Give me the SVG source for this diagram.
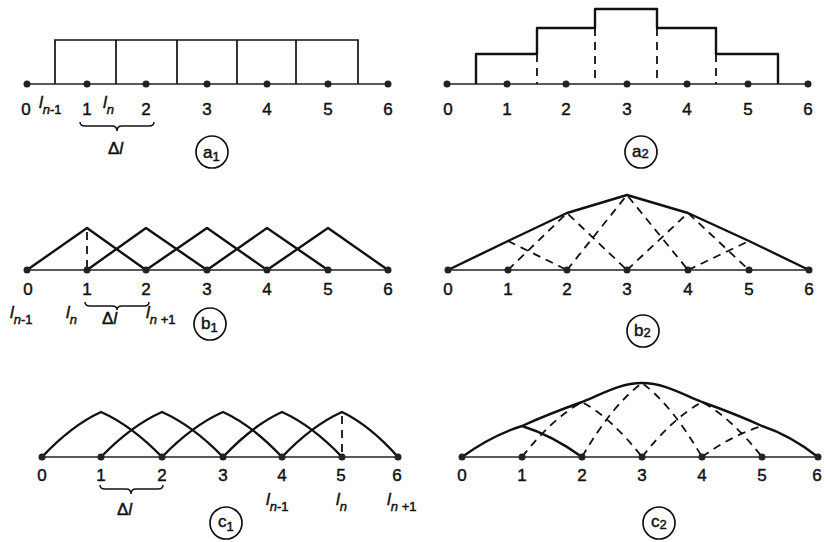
<svg xmlns="http://www.w3.org/2000/svg" width="826" height="542" viewBox="0 0 826 542">
<style>
  text { font-family: "Liberation Sans", Arial, sans-serif; fill: #111; stroke: #111; stroke-width: 0.45; }
  .num { font-size: 17px; text-anchor: middle; }
  .lbl { font-size: 17px; }
  .it { font-style: italic; }
  .sub { font-size: 13px; }
  .axis { stroke: #222; stroke-width: 1.6; fill: none; }
  .thin { stroke: #111; stroke-width: 1.7; fill: none; }
  .bold { stroke: #111; stroke-width: 2.4; fill: none; stroke-linejoin: round; }
  .dash { stroke: #111; stroke-width: 1.8; fill: none; stroke-dasharray: 8 6; }
  .brace { stroke: #111; stroke-width: 1.5; fill: none; }
  .ring { stroke: #111; stroke-width: 1.7; fill: none; }
  .dot { fill: #222; }
</style>
<rect width="826" height="542" fill="#fff"/>

<!-- a1 -->
<g id="panel-a1">
  <line class="axis" x1="27" y1="84" x2="388" y2="84"/>
  <path class="thin" d="M55,84 V40 H358 V84 M116,40 V84 M177,40 V84 M237,40 V84 M296,40 V84"/>
  <g class="dot">
    <circle cx="27" cy="84" r="3.5"/><circle cx="87" cy="84" r="3.5"/><circle cx="146" cy="84" r="3.5"/>
    <circle cx="207" cy="84" r="3.5"/><circle cx="267" cy="84" r="3.5"/><circle cx="328" cy="84" r="3.5"/>
    <circle cx="388" cy="84" r="3.5"/>
  </g>
  <text class="num" x="26" y="115">0</text>
  <text class="num" x="87" y="115">1</text>
  <text class="num" x="146" y="115">2</text>
  <text class="num" x="207" y="115">3</text>
  <text class="num" x="267" y="115">4</text>
  <text class="num" x="328" y="115">5</text>
  <text class="num" x="388" y="115">6</text>
  <text class="lbl" x="39" y="108"><tspan class="it">l</tspan><tspan class="sub" dy="6"><tspan class="it">n</tspan>-1</tspan></text>
  <text class="lbl" x="103" y="108"><tspan class="it">l</tspan><tspan class="sub" dy="6"><tspan class="it">n</tspan></tspan></text>
  <path class="brace" d="M80,122 Q80,126 85,126 L112,126 Q117,126 117,131 Q117,126 122,126 L149,126 Q154,126 154,122"/>
  <text class="lbl" x="108" y="154">Δ<tspan class="it">l</tspan></text>
  <circle class="ring" cx="212" cy="152" r="16"/>
  <text class="lbl" x="203" y="158">a<tspan class="sub" dy="3">1</tspan></text>
</g>

<!-- a2 -->
<g id="panel-a2">
  <line class="axis" x1="447" y1="84" x2="808" y2="84"/>
  <path class="bold" stroke-width="2.2" d="M476,84 V54 H537 V28 H595 V9 H657 V28 H716 V54 H778 V84"/>
  <path class="dash" stroke-width="1.5" d="M537,54 V84 M595,28 V84 M657,28 V84 M716,54 V84"/>
  <g class="dot">
    <circle cx="447" cy="84" r="3.5"/><circle cx="507" cy="84" r="3.5"/><circle cx="566" cy="84" r="3.5"/>
    <circle cx="627" cy="84" r="3.5"/><circle cx="687" cy="84" r="3.5"/><circle cx="748" cy="84" r="3.5"/>
    <circle cx="808" cy="84" r="3.5"/>
  </g>
  <text class="num" x="448" y="115">0</text>
  <text class="num" x="507" y="115">1</text>
  <text class="num" x="566" y="115">2</text>
  <text class="num" x="627" y="115">3</text>
  <text class="num" x="687" y="115">4</text>
  <text class="num" x="748" y="115">5</text>
  <text class="num" x="808" y="115">6</text>
  <circle class="ring" cx="641" cy="152" r="16"/>
  <text class="lbl" x="632" y="157">a<tspan class="sub" dy="1">2</tspan></text>
</g>

<!-- b1 -->
<g id="panel-b1">
  <line class="axis" x1="27" y1="270" x2="388" y2="270"/>
  <path class="bold" d="M27,270 L87,228 L146,270 M87,270 L146,228 L207,270 M146,270 L207,228 L267,270 M207,270 L267,228 L328,270 M267,270 L328,228 L388,270"/>
  <path class="dash" stroke-width="1.5" d="M87,232 V270"/>
  <g class="dot">
    <circle cx="27" cy="270" r="3.5"/><circle cx="87" cy="270" r="3.5"/><circle cx="146" cy="270" r="3.5"/>
    <circle cx="207" cy="270" r="3.5"/><circle cx="267" cy="270" r="3.5"/><circle cx="328" cy="270" r="3.5"/>
    <circle cx="388" cy="270" r="3.5"/>
  </g>
  <text class="num" x="28" y="295">0</text>
  <text class="num" x="87" y="295">1</text>
  <text class="num" x="146" y="295">2</text>
  <text class="num" x="207" y="295">3</text>
  <text class="num" x="267" y="295">4</text>
  <text class="num" x="328" y="295">5</text>
  <text class="num" x="388" y="295">6</text>
  <path class="brace" d="M85,302 Q85,306 90,306 L112,306 Q117,306 117,310 Q117,306 122,306 L144,306 Q149,306 149,302"/>
  <text class="lbl" x="10" y="318"><tspan class="it">l</tspan><tspan class="sub" dy="6"><tspan class="it">n</tspan>-1</tspan></text>
  <text class="lbl" x="66" y="318"><tspan class="it">l</tspan><tspan class="sub" dy="6"><tspan class="it">n</tspan></tspan></text>
  <text class="lbl" x="102" y="324">Δ<tspan class="it">l</tspan></text>
  <text class="lbl" x="146" y="318"><tspan class="it">l</tspan><tspan class="sub" dy="6"><tspan class="it">n</tspan> +1</tspan></text>
  <circle class="ring" cx="210" cy="324" r="16"/>
  <text class="lbl" x="201" y="329">b<tspan class="sub" dy="3">1</tspan></text>
</g>

<!-- b2 -->
<g id="panel-b2">
  <line class="axis" x1="448" y1="270" x2="809" y2="270"/>
  <path class="bold" stroke-width="2" d="M448,270 L508,241 L567,213 L627,195 L688,213 L749,241 L809,270"/>
  <path class="dash" d="M508,241 L567,270 M508,270 L567,213 L627,270 M567,270 L627,195 L688,270 M627,270 L688,213 L749,270 M688,270 L749,241"/>
  <g class="dot">
    <circle cx="448" cy="270" r="3.5"/><circle cx="508" cy="270" r="3.5"/><circle cx="567" cy="270" r="3.5"/>
    <circle cx="627" cy="270" r="3.5"/><circle cx="688" cy="270" r="3.5"/><circle cx="749" cy="270" r="3.5"/>
    <circle cx="809" cy="270" r="3.5"/>
  </g>
  <text class="num" x="448" y="295">0</text>
  <text class="num" x="508" y="295">1</text>
  <text class="num" x="567" y="295">2</text>
  <text class="num" x="627" y="295">3</text>
  <text class="num" x="688" y="295">4</text>
  <text class="num" x="749" y="295">5</text>
  <text class="num" x="809" y="295">6</text>
  <circle class="ring" cx="643" cy="331" r="16"/>
  <text class="lbl" x="634" y="336">b<tspan class="sub" dy="1">2</tspan></text>
</g>

<!-- c1 -->
<g id="panel-c1">
  <line class="axis" x1="42" y1="457" x2="398" y2="457"/>
  <path class="bold" d="M42,457 Q71.5,425.5 101,412 Q131.5,425.5 162,457 M101,457 Q131.5,425.5 162,412 Q192.5,425.5 223,457 M162,457 Q192.5,425.5 223,412 Q252.5,425.5 282,457 M223,457 Q252.5,425.5 282,412 Q312,425.5 342,457 M282,457 Q312,425.5 342,412 Q370,425.5 398,457"/>
  <path class="dash" stroke-width="1.5" d="M342,416 V457"/>
  <g class="dot">
    <circle cx="42" cy="457" r="3.5"/><circle cx="101" cy="457" r="3.5"/><circle cx="162" cy="457" r="3.5"/>
    <circle cx="223" cy="457" r="3.5"/><circle cx="282" cy="457" r="3.5"/><circle cx="342" cy="457" r="3.5"/>
    <circle cx="398" cy="457" r="3.5"/>
  </g>
  <text class="num" x="42" y="481">0</text>
  <text class="num" x="101" y="481">1</text>
  <text class="num" x="162" y="481">2</text>
  <text class="num" x="223" y="481">3</text>
  <text class="num" x="282" y="481">4</text>
  <text class="num" x="341" y="481">5</text>
  <text class="num" x="397" y="481">6</text>
  <path class="brace" d="M100,485 Q100,489 105,489 L126,489 Q131,489 131,494 Q131,489 136,489 L158,489 Q163,489 163,485"/>
  <text class="lbl" x="117" y="515">Δ<tspan class="it">l</tspan></text>
  <text class="lbl" x="266" y="505"><tspan class="it">l</tspan><tspan class="sub" dy="6"><tspan class="it">n</tspan>-1</tspan></text>
  <text class="lbl" x="336" y="505"><tspan class="it">l</tspan><tspan class="sub" dy="6"><tspan class="it">n</tspan></tspan></text>
  <text class="lbl" x="387" y="505"><tspan class="it">l</tspan><tspan class="sub" dy="6"><tspan class="it">n</tspan> +1</tspan></text>
  <circle class="ring" cx="226" cy="523" r="16"/>
  <text class="lbl" x="218" y="527">c<tspan class="sub" dy="4">1</tspan></text>
</g>

<!-- c2 -->
<g id="panel-c2">
  <line class="axis" x1="462" y1="457" x2="818" y2="457"/>
  <path class="bold" stroke-width="2.2" d="M462,457 Q492,435.3 522,426 C542,416.8 562,409.2 582,402 C602,394 620,383 642,383 C664,383 682,394 702,402 C722,409.2 742,416.8 762,426 Q790,435.3 818,457"/>
  <path class="bold" stroke-width="2" d="M522,426 Q552,435.3 582,457"/>
  <path class="dash" d="M522,457 Q552,418.5 582,402 Q612,418.5 642,457 M582,457 Q612,405.2 642,383 Q672,405.2 702,457 M642,457 Q672,418.5 702,402 Q732,418.5 762,457 M702,457 Q732,435.3 762,426"/>
  <g class="dot">
    <circle cx="462" cy="457" r="3.5"/><circle cx="522" cy="457" r="3.5"/><circle cx="582" cy="457" r="3.5"/>
    <circle cx="642" cy="457" r="3.5"/><circle cx="702" cy="457" r="3.5"/><circle cx="762" cy="457" r="3.5"/>
    <circle cx="818" cy="457" r="3.5"/>
  </g>
  <text class="num" x="462" y="481">0</text>
  <text class="num" x="522" y="481">1</text>
  <text class="num" x="582" y="481">2</text>
  <text class="num" x="642" y="481">3</text>
  <text class="num" x="702" y="481">4</text>
  <text class="num" x="762" y="481">5</text>
  <text class="num" x="817" y="481">6</text>
  <circle class="ring" cx="659" cy="523" r="16"/>
  <text class="lbl" x="651" y="527">c<tspan class="sub" dy="2">2</tspan></text>
</g>
</svg>
